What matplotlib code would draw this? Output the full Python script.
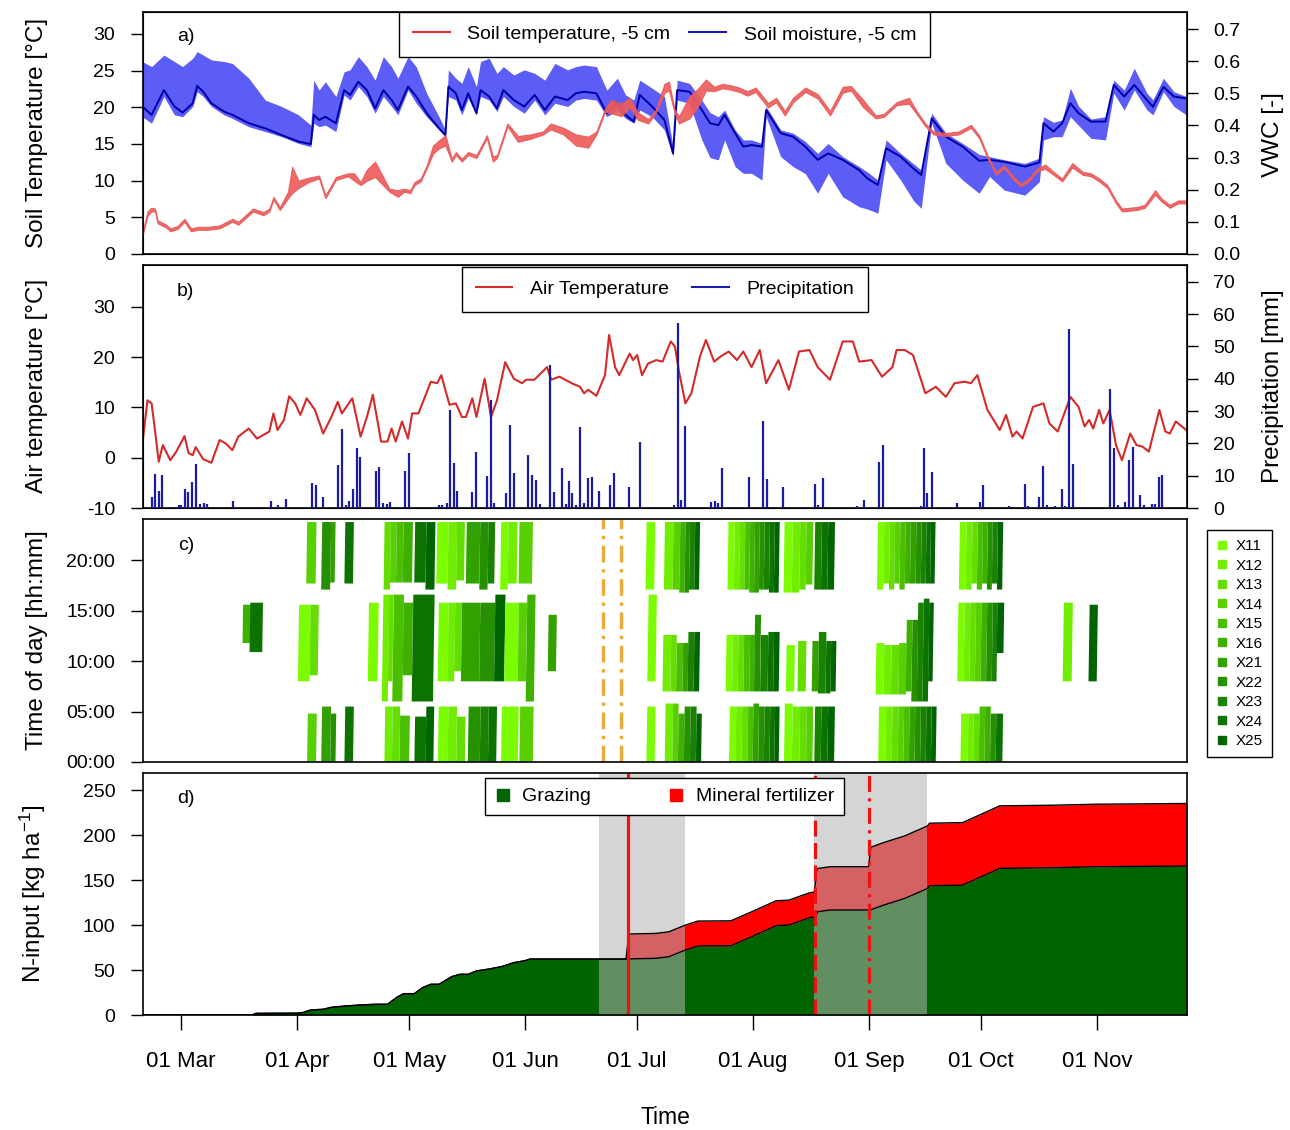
import numpy as np
import matplotlib
matplotlib.use("Agg")
import matplotlib.pyplot as plt
from matplotlib.colors import LinearSegmentedColormap
from matplotlib.lines import Line2D
from matplotlib.patches import Polygon

plt.rcParams['font.family'] = ['Liberation Sans', 'DejaVu Sans']
plt.rcParams['mathtext.fontset'] = 'custom'
plt.rcParams['mathtext.rm'] = 'Liberation Sans'
plt.rcParams['mathtext.it'] = 'Liberation Sans:italic'
plt.rcParams['axes.unicode_minus'] = False

# all x values are days counted from 01 March
month_days = [0, 31, 61, 92, 122, 153, 184, 214, 245]
month_labels = ['01 Mar', '01 Apr', '01 May', '01 Jun', '01 Jul',
                '01 Aug', '01 Sep', '01 Oct', '01 Nov']

# a) soil temperature (range over sensors) and soil moisture, -5 cm
soil_t_day = [-10.4, -9.0, -8.0, -7.0, -6.3, -4.0, -2.9, -1.0, 0.9, 2.6,
              4.5, 7.0, 10.3, 13.7, 15.3, 19.2, 22.0, 23.6, 24.7, 26.4,
              28.6, 29.7, 31.4, 34.1, 36.9, 38.6, 41.4, 44.7, 46.3, 48.0,
              49.7, 51.9, 55.7, 58.0, 59.6, 61.3, 62.4, 64.1, 65.7, 67.4,
              69.0, 70.7, 72.4, 73.5, 75.1, 76.8, 79.0, 81.8, 83.4, 84.5,
              87.3, 90.1, 93.4, 96.8, 98.9, 102.3, 105.6, 108.9, 111.1, 113.4,
              115.0, 117.8, 120.0, 122.2, 125.0, 127.0, 129.3, 130.5, 132.0, 133.2,
              136.0, 138.2, 140.4, 142.6, 144.8, 147.1, 149.3, 151.5, 153.7, 155.9,
              157.0, 159.2, 161.5, 163.7, 167.0, 170.3, 173.6, 177.0, 179.2, 182.5,
              185.8, 188.0, 191.4, 194.7, 196.9, 199.1, 201.3, 204.6, 208.0, 211.3,
              213.5, 215.7, 218.0, 220.2, 222.4, 224.6, 226.8, 229.0, 231.2, 233.4,
              235.7, 238.4, 241.2, 243.4, 245.6, 247.8, 250.1, 251.7, 255.6, 257.8,
              260.6, 262.2, 264.5, 266.7, 268.9]
soil_t_lo = [2.4, 5.2, 5.8, 5.8, 4.2, 3.6, 3.1, 3.4, 4.4, 3.1,
             3.3, 3.3, 3.5, 4.4, 4.0, 5.8, 5.3, 5.8, 7.4, 6.0,
             7.6, 8.3, 9.0, 9.8, 10.3, 7.6, 10.1, 10.6, 10.0, 9.4,
             10.0, 10.5, 8.5, 7.8, 8.5, 8.3, 9.4, 9.9, 11.7, 13.7,
             14.4, 14.8, 12.6, 13.5, 12.6, 13.5, 13.1, 15.8, 12.6, 13.1,
             17.4, 15.3, 15.7, 16.3, 17.0, 16.3, 14.8, 14.5, 16.3, 19.4,
             19.2, 18.8, 20.0, 18.3, 17.8, 19.3, 22.0, 22.3, 19.3, 17.8,
             18.5, 20.0, 22.3, 22.2, 22.6, 22.4, 22.1, 21.6, 22.1, 20.7,
             20.0, 20.7, 18.9, 20.7, 22.1, 21.2, 18.9, 22.0, 22.3, 20.0,
             18.5, 18.7, 20.3, 20.5, 19.0, 17.4, 16.3, 16.1, 16.3, 17.2,
             15.8, 13.1, 10.8, 11.7, 10.3, 9.2, 9.9, 11.3, 11.6, 10.8,
             9.9, 11.8, 10.8, 10.6, 9.9, 9.0, 6.9, 5.8, 6.0, 6.3,
             8.1, 7.2, 6.3, 6.9, 6.9]
soil_t_hi = [2.8, 5.8, 6.3, 6.2, 4.6, 4.0, 3.5, 3.8, 4.8, 3.5,
             3.7, 3.7, 3.9, 4.8, 4.4, 6.2, 5.7, 6.2, 7.8, 6.4,
             8.5, 11.9, 10.0, 10.4, 10.7, 8.0, 10.5, 11.0, 11.0, 9.8,
             11.5, 12.6, 8.9, 8.7, 8.9, 8.7, 9.8, 10.3, 12.1, 14.8,
             15.5, 16.2, 13.0, 13.9, 13.0, 13.9, 13.5, 16.2, 13.3, 13.5,
             17.8, 16.1, 16.3, 16.7, 17.8, 17.2, 16.3, 16.0, 16.7, 19.8,
             21.0, 20.5, 21.3, 19.3, 18.4, 19.7, 23.2, 23.5, 19.7, 18.8,
             21.5, 22.5, 23.8, 22.8, 23.2, 23.0, 22.7, 22.2, 22.7, 21.3,
             20.6, 21.3, 19.5, 21.3, 22.7, 21.8, 19.5, 22.8, 22.9, 21.0,
             18.9, 19.1, 20.7, 21.3, 19.4, 17.8, 16.7, 16.5, 16.7, 17.6,
             16.2, 13.5, 11.2, 12.1, 10.7, 9.6, 10.3, 11.7, 12.2, 11.2,
             10.3, 12.4, 11.2, 11.0, 10.3, 9.4, 7.3, 6.2, 6.4, 6.7,
             8.7, 7.6, 6.7, 7.3, 7.3]

vwc_day = [-10.4, -7.9, -4.6, -1.8, 0.4, 3.1, 4.3, 5.9, 8.1, 11.5,
           13.7, 18.1, 22.5, 26.9, 31.4, 34.7, 35.5, 36.9, 38.6, 41.4,
           43.6, 45.2, 47.4, 49.7, 51.9, 54.1, 56.3, 58.0, 60.7, 62.9,
           65.7, 69.0, 70.7, 71.5, 73.5, 75.1, 76.8, 79.0, 80.1, 82.4,
           84.5, 86.2, 89.0, 91.8, 94.6, 97.3, 100.0, 103.4, 105.6, 107.8,
           111.1, 113.9, 116.7, 118.9, 121.1, 122.7, 126.0, 129.3, 131.6, 132.7,
           136.0, 139.3, 141.5, 143.7, 145.4, 148.2, 150.4, 152.6, 155.4, 156.5,
           160.4, 163.7, 167.0, 170.3, 173.1, 177.0, 181.4, 183.6, 186.4, 188.6,
           192.5, 196.0, 198.0, 200.8, 204.6, 209.1, 213.5, 216.3, 220.2, 225.7,
           229.6, 230.7, 233.4, 235.7, 237.9, 240.1, 243.4, 247.3, 249.5, 252.3,
           255.0, 258.4, 260.0, 262.8, 265.6, 268.9]
vwc_lo = [0.427, 0.407, 0.490, 0.433, 0.427, 0.459, 0.505, 0.490, 0.459, 0.433,
          0.422, 0.396, 0.381, 0.365, 0.344, 0.334, 0.407, 0.396, 0.401, 0.381,
          0.495, 0.479, 0.521, 0.490, 0.438, 0.490, 0.459, 0.433, 0.510, 0.469,
          0.427, 0.386, 0.365, 0.490, 0.479, 0.433, 0.484, 0.433, 0.490, 0.479,
          0.443, 0.490, 0.459, 0.438, 0.479, 0.433, 0.469, 0.459, 0.479, 0.484,
          0.479, 0.427, 0.448, 0.422, 0.407, 0.448, 0.427, 0.386, 0.303, 0.479,
          0.469, 0.355, 0.300, 0.293, 0.355, 0.272, 0.251, 0.251, 0.230, 0.427,
          0.303, 0.272, 0.250, 0.189, 0.251, 0.178, 0.147, 0.140, 0.127, 0.293,
          0.230, 0.165, 0.142, 0.407, 0.282, 0.230, 0.189, 0.241, 0.199, 0.183,
          0.225, 0.355, 0.365, 0.365, 0.427, 0.400, 0.360, 0.355, 0.500, 0.448,
          0.510, 0.448, 0.433, 0.505, 0.459, 0.433]
vwc_mid = [0.459, 0.433, 0.510, 0.459, 0.440, 0.469, 0.523, 0.505, 0.469, 0.443,
           0.433, 0.407, 0.391, 0.370, 0.350, 0.342, 0.433, 0.417, 0.427, 0.407,
           0.510, 0.495, 0.536, 0.510, 0.453, 0.510, 0.479, 0.448, 0.521, 0.490,
           0.438, 0.391, 0.370, 0.521, 0.500, 0.448, 0.500, 0.438, 0.510, 0.490,
           0.453, 0.510, 0.479, 0.459, 0.495, 0.448, 0.490, 0.479, 0.500, 0.505,
           0.500, 0.438, 0.469, 0.433, 0.412, 0.495, 0.459, 0.417, 0.313, 0.510,
           0.505, 0.448, 0.407, 0.401, 0.433, 0.376, 0.334, 0.339, 0.334, 0.448,
           0.376, 0.365, 0.334, 0.293, 0.313, 0.293, 0.261, 0.235, 0.215, 0.329,
           0.303, 0.265, 0.246, 0.422, 0.365, 0.334, 0.290, 0.293, 0.287, 0.272,
           0.285, 0.407, 0.381, 0.407, 0.469, 0.438, 0.412, 0.412, 0.526, 0.490,
           0.526, 0.479, 0.458, 0.520, 0.490, 0.484]
vwc_hi = [0.599, 0.583, 0.619, 0.599, 0.583, 0.609, 0.630, 0.619, 0.604, 0.599,
          0.593, 0.547, 0.479, 0.459, 0.433, 0.401, 0.541, 0.510, 0.536, 0.490,
          0.567, 0.573, 0.614, 0.583, 0.541, 0.614, 0.583, 0.547, 0.614, 0.583,
          0.500, 0.427, 0.386, 0.573, 0.547, 0.531, 0.583, 0.521, 0.599, 0.609,
          0.562, 0.583, 0.557, 0.573, 0.562, 0.541, 0.593, 0.573, 0.583, 0.588,
          0.583, 0.510, 0.547, 0.495, 0.479, 0.541, 0.516, 0.490, 0.334, 0.541,
          0.531, 0.479, 0.440, 0.427, 0.448, 0.386, 0.355, 0.355, 0.344, 0.459,
          0.386, 0.376, 0.350, 0.313, 0.344, 0.303, 0.272, 0.255, 0.230, 0.355,
          0.313, 0.280, 0.261, 0.438, 0.376, 0.344, 0.310, 0.303, 0.293, 0.282,
          0.298, 0.427, 0.410, 0.417, 0.516, 0.460, 0.420, 0.427, 0.541, 0.510,
          0.578, 0.500, 0.480, 0.547, 0.505, 0.490]

# b) air temperature and daily precipitation
air_day = [-10.4, -9.0, -7.9, -7.0, -6.0, -4.9, -2.9, -1.3, 0.9, 2.0,
           3.1, 3.9, 5.9, 8.1, 10.3, 12.0, 13.7, 15.3, 18.1, 20.3,
           23.6, 24.7, 25.8, 27.5, 28.9, 30.5, 31.9, 33.6, 35.8, 38.0,
           40.2, 41.9, 43.0, 45.8, 48.0, 49.7, 51.3, 53.5, 55.2, 56.3,
           57.4, 59.1, 60.7, 61.8, 63.5, 66.8, 68.5, 69.6, 71.8, 73.5,
           75.1, 76.2, 77.9, 79.0, 81.2, 82.9, 84.5, 86.7, 89.0, 91.2,
           92.3, 94.5, 97.9, 99.0, 101.2, 104.5, 106.7, 107.8, 108.9, 111.1,
           113.4, 114.5, 116.1, 117.2, 120.0, 120.9, 122.0, 123.3, 124.9, 127.1,
           128.8, 131.0, 132.1, 133.2, 134.9, 136.5, 138.8, 140.4, 142.6, 144.3,
           146.5, 148.7, 150.4, 152.6, 154.8, 156.5, 159.8, 162.6, 165.3, 168.1,
           170.3, 173.6, 177.0, 179.7, 181.4, 184.7, 187.5, 190.3, 191.4, 193.6,
           195.8, 199.1, 201.9, 204.6, 206.9, 209.6, 211.3, 213.0, 215.7, 219.0,
           220.7, 222.4, 223.5, 225.1, 227.9, 230.7, 232.3, 234.5, 237.9, 240.1,
           241.7, 242.9, 244.0, 245.6, 246.7, 248.4, 250.1, 251.7, 253.9, 255.6,
           257.2, 258.9, 261.7, 263.3, 264.5, 266.1, 268.9]
air_t = [2.5, 11.4, 10.8, 5.5, -0.8, 2.5, -0.5, 1.2, 4.3, 0.9,
         0.5, 2.1, -0.3, -1.0, 3.5, 2.8, 1.5, 4.2, 5.8, 3.8,
         5.2, 8.8, 5.5, 7.5, 12.2, 10.8, 8.5, 11.8, 9.5, 4.8,
         8.1, 11.1, 8.8, 11.8, 4.2, 8.1, 12.5, 3.2, 3.2, 5.8,
         3.2, 7.2, 3.8, 8.8, 8.8, 15.1, 14.8, 16.4, 10.5, 10.8,
         8.1, 8.1, 11.8, 8.1, 15.7, 8.1, 11.4, 19.0, 15.7, 14.8,
         15.5, 15.5, 18.0, 15.5, 16.1, 14.8, 14.1, 12.8, 13.5, 12.3,
         16.4, 24.4, 18.0, 16.4, 20.7, 19.4, 20.4, 16.4, 18.7, 19.4,
         19.1, 23.1, 22.1, 17.1, 10.8, 12.8, 20.1, 23.4, 19.1, 20.1,
         21.1, 19.4, 21.1, 18.0, 21.4, 14.8, 19.4, 13.5, 21.1, 21.4,
         18.0, 15.5, 23.1, 23.1, 19.1, 19.4, 16.1, 18.0, 21.4, 21.4,
         20.4, 12.8, 14.1, 12.1, 14.8, 15.1, 14.8, 16.4, 9.5, 5.5,
         8.5, 4.2, 5.2, 3.8, 10.1, 10.8, 6.8, 5.2, 12.1, 10.1,
         6.2, 7.5, 5.8, 9.5, 6.8, 9.5, 2.5, -0.5, 4.8, 2.5,
         2.2, 1.2, 9.5, 5.2, 4.8, 7.2, 5.5]

precip_day = [-7.9, -7.0, -6.0, -5.0, -0.7, 0.0, 1.0, 1.9, 3.0, 3.9,
              5.0, 6.1, 7.0, 14.0, 24.0, 26.0, 28.1, 35.0, 36.0, 37.9,
              42.0, 43.0, 44.0, 44.9, 45.9, 47.0, 47.9, 52.2, 52.9, 54.1,
              55.0, 56.0, 60.0, 61.0, 69.0, 69.9, 71.0, 71.9, 72.9, 73.9,
              77.9, 78.9, 81.8, 82.8, 83.8, 86.8, 87.9, 89.0, 92.9, 94.0,
              95.0, 95.9, 98.7, 99.8, 101.9, 102.9, 103.8, 104.7, 105.7, 106.8,
              107.8, 108.8, 109.8, 111.7, 114.8, 115.8, 119.7, 122.7,
              131.9, 132.8, 133.8, 134.7, 141.7, 142.7, 143.7, 144.8, 151.8, 155.7,
              156.7, 160.9, 169.7, 170.5, 171.8, 180.8, 182.6, 186.7, 187.7, 198.0,
              198.7, 199.6, 200.8, 207.7, 213.7, 214.6, 221.6, 225.7, 226.6, 229.6,
              230.6, 231.7, 233.8, 235.7, 236.5, 237.5, 238.5, 248.6, 249.6, 250.6,
              252.6, 253.6, 254.6, 256.6, 257.6, 259.7, 260.6, 261.6, 262.5]
precip_mm = [3.3, 10.4, 5.3, 10.2, 0.9, 0.9, 6.0, 5.0, 8.2, 13.6,
             1.1, 1.4, 1.1, 2.3, 2.2, 0.9, 2.8, 7.6, 7.1, 3.3,
             13.3, 24.4, 0.9, 2.3, 5.8, 18.5, 15.9, 11.6, 12.6, 1.7,
             1.1, 2.0, 11.5, 16.9, 0.9, 0.9, 1.7, 30.3, 13.8, 5.3,
             5.0, 17.4, 9.9, 33.4, 1.7, 4.5, 25.7, 10.7, 16.4, 10.3,
             8.7, 1.2, 44.3, 5.1, 12.5, 1.1, 8.4, 4.5, 0.9, 25.0,
             1.7, 9.2, 9.7, 5.3, 7.2, 10.7, 6.6, 20.5,
             0.9, 57.2, 2.5, 25.5, 1.8, 2.1, 1.4, 12.3, 9.7, 26.9,
             8.9, 6.6, 7.3, 0.9, 9.2, 0.6, 2.5, 14.3, 19.5, 0.6,
             18.5, 4.7, 11.0, 1.4, 2.0, 7.1, 0.6, 7.3, 0.6, 3.5,
             13.0, 0.9, 0.6, 5.8, 0.6, 55.4, 13.6, 36.7, 18.5, 0.9,
             2.0, 14.9, 18.8, 4.1, 0.9, 1.2, 1.2, 9.7, 10.2]

# c) animal presence per paddock: (paddock, first day, last day, from hour, to hour)
paddocks = ['X11', 'X12', 'X13', 'X14', 'X15', 'X16',
            'X21', 'X22', 'X23', 'X24', 'X25']
evening_blocks = [
    (3, 33.6, 36.1, 17.7, 23.8), (7, 37.6, 40.0, 17.1, 23.8), (6, 40.0, 41.2, 17.8, 23.8),
    (9, 43.8, 46.1, 17.7, 23.8), (2, 54.3, 56.0, 17.1, 23.8), (3, 56.0, 57.6, 17.8, 23.8),
    (4, 57.6, 59.4, 17.8, 23.8), (5, 59.4, 61.9, 17.8, 23.8), (9, 62.5, 65.5, 17.8, 23.8),
    (10, 65.5, 67.9, 17.1, 23.8), (0, 68.4, 71.4, 17.7, 23.8), (1, 71.4, 73.7, 17.1, 23.8),
    (2, 73.7, 75.8, 18.0, 23.8), (6, 76.3, 79.9, 17.7, 23.8), (7, 79.9, 82.1, 17.1, 23.8),
    (8, 82.1, 83.9, 17.7, 23.8), (0, 85.5, 87.5, 17.1, 23.8), (1, 87.5, 89.9, 17.7, 23.8),
    (3, 90.4, 94.0, 17.7, 23.8), (0, 124.4, 126.7, 17.1, 23.8),
    (1, 129.3, 131.6, 17.1, 23.8), (3, 131.6, 133.4, 17.1, 23.8), (5, 133.4, 134.8, 16.8, 23.8),
    (7, 134.8, 136.0, 16.8, 23.8), (8, 136.0, 137.4, 17.1, 23.8), (10, 137.4, 138.7, 17.1, 23.8),
    (0, 146.3, 148.0, 17.1, 23.8), (1, 148.0, 149.4, 17.1, 23.8), (2, 149.4, 150.8, 17.1, 23.8),
    (4, 150.8, 152.1, 17.1, 23.8), (5, 152.1, 153.4, 16.8, 23.8), (6, 153.4, 154.7, 16.8, 23.8),
    (7, 154.7, 156.0, 17.1, 23.8), (8, 156.0, 157.4, 17.1, 23.8), (9, 157.4, 158.7, 16.8, 23.8),
    (10, 158.7, 160.0, 16.8, 23.8), (0, 161.3, 163.5, 16.8, 23.8), (1, 163.5, 165.5, 16.8, 23.8),
    (2, 165.5, 167.2, 17.1, 23.8), (3, 167.2, 169.0, 17.6, 23.8), (8, 169.5, 171.3, 17.1, 23.8),
    (9, 171.3, 173.0, 17.1, 23.8), (10, 173.0, 174.8, 17.1, 23.8),
    (0, 186.3, 188.0, 17.1, 23.8), (1, 188.0, 189.5, 17.7, 23.8), (2, 189.5, 190.9, 17.1, 23.8),
    (3, 190.9, 192.3, 17.7, 23.8), (4, 192.3, 193.7, 17.1, 23.8), (5, 193.7, 195.1, 17.7, 23.8),
    (6, 195.1, 196.6, 17.7, 23.8), (7, 196.6, 198.0, 17.7, 23.8), (8, 198.0, 199.3, 17.7, 23.8),
    (9, 199.3, 200.5, 17.7, 23.8), (10, 200.5, 201.7, 17.7, 23.8),
    (0, 208.2, 210.0, 17.1, 23.8), (1, 210.0, 211.6, 17.1, 23.8), (2, 211.6, 213.0, 17.7, 23.8),
    (4, 213.0, 214.4, 17.1, 23.8), (5, 214.4, 215.7, 17.7, 23.8), (7, 215.7, 217.0, 17.1, 23.8),
    (8, 217.0, 218.4, 17.7, 23.8), (10, 218.4, 219.8, 17.1, 23.8),
]
daytime_blocks = [
    (5, 16.5, 19.2, 11.8, 15.6), (9, 18.4, 21.8, 10.9, 15.8), (0, 31.4, 34.5, 8.0, 15.6),
    (2, 34.5, 36.7, 8.6, 15.6), (0, 50.1, 52.7, 8.0, 15.8), (1, 53.9, 55.5, 6.0, 16.6),
    (2, 55.5, 56.7, 8.0, 16.6), (4, 56.7, 59.4, 6.0, 16.6), (5, 59.4, 61.9, 8.6, 15.8),
    (9, 61.9, 67.6, 6.0, 16.6), (0, 68.8, 71.4, 8.0, 15.8), (1, 71.4, 73.2, 8.0, 15.8),
    (2, 73.2, 75.0, 9.0, 15.8), (6, 75.0, 79.9, 8.0, 15.8), (7, 79.9, 83.9, 8.0, 15.8),
    (10, 83.9, 86.6, 8.0, 16.6), (0, 86.6, 90.2, 8.0, 15.8), (3, 90.2, 92.4, 8.0, 15.8),
    (5, 92.4, 94.6, 6.0, 16.6), (6, 98.2, 100.4, 9.0, 14.6), (0, 124.9, 127.1, 8.0, 16.6),
    (1, 128.9, 131.0, 7.0, 12.6), (2, 131.0, 132.5, 7.0, 12.6), (4, 132.5, 134.2, 7.0, 11.8),
    (6, 134.2, 135.6, 7.0, 11.8), (8, 135.6, 137.2, 7.0, 12.9), (10, 137.2, 138.7, 7.0, 12.9),
    (0, 145.8, 147.5, 7.0, 12.6), (1, 147.5, 149.0, 7.0, 12.6), (2, 149.0, 150.5, 7.0, 12.6),
    (4, 150.5, 152.1, 7.0, 12.6), (5, 152.1, 153.4, 7.0, 12.6), (7, 153.4, 155.0, 7.0, 14.6),
    (8, 155.0, 157.0, 7.0, 12.6), (9, 157.0, 158.5, 7.0, 12.9), (10, 158.5, 160.0, 7.0, 12.9),
    (0, 161.9, 164.1, 7.0, 11.6), (2, 165.0, 167.2, 7.0, 12.0), (6, 168.8, 170.5, 7.0, 12.0),
    (8, 170.5, 172.5, 6.8, 12.9), (9, 172.5, 173.8, 6.8, 12.0), (10, 173.8, 175.2, 7.0, 12.0),
    (0, 185.9, 188.0, 6.7, 11.8), (1, 188.0, 190.0, 6.7, 11.6), (2, 190.0, 192.0, 6.7, 11.6),
    (3, 192.0, 194.0, 6.7, 11.8), (5, 194.0, 195.5, 7.0, 14.1), (7, 195.5, 197.0, 6.0, 14.1),
    (8, 197.0, 198.5, 6.0, 15.8), (9, 198.5, 200.0, 6.0, 16.2), (10, 200.0, 201.2, 8.0, 15.8),
    (0, 207.8, 209.5, 8.0, 15.8), (1, 209.5, 211.0, 8.0, 15.8), (2, 211.0, 212.5, 8.0, 15.8),
    (3, 212.5, 214.0, 8.0, 15.8), (5, 214.0, 215.5, 8.0, 15.8), (7, 215.5, 217.0, 8.0, 15.8),
    (8, 217.0, 218.3, 8.0, 15.8), (10, 218.3, 220.1, 10.8, 15.8),
    (1, 236.0, 238.4, 8.0, 15.8), (10, 242.9, 245.1, 8.0, 15.6),
]
night_blocks = [
    (3, 33.8, 36.2, 0.0, 4.8), (6, 37.6, 40.0, 0.0, 5.5), (7, 40.0, 41.4, 0.0, 4.8),
    (9, 43.8, 46.1, 0.0, 5.5), (1, 54.5, 56.5, 0.0, 5.5), (2, 56.5, 58.5, 0.0, 5.5),
    (4, 58.5, 61.1, 0.0, 4.6), (9, 62.5, 65.5, 0.0, 4.5), (10, 65.5, 67.6, 0.0, 5.5),
    (0, 68.8, 71.4, 0.0, 5.5), (1, 71.4, 73.7, 0.0, 5.5), (2, 73.7, 76.0, 0.0, 4.5),
    (7, 76.8, 80.0, 0.0, 5.5), (8, 80.0, 82.2, 0.0, 5.5), (9, 82.2, 84.4, 0.0, 5.5),
    (0, 85.7, 90.2, 0.0, 5.5), (3, 90.6, 94.2, 0.0, 5.5), (0, 124.6, 126.8, 0.0, 5.5),
    (1, 129.5, 131.5, 0.0, 5.8), (3, 131.5, 133.0, 0.0, 5.8), (5, 133.0, 134.6, 0.0, 4.8),
    (7, 134.6, 136.2, 0.0, 5.5), (8, 136.2, 137.8, 0.0, 5.5), (10, 137.8, 139.2, 0.0, 4.8),
    (0, 146.7, 148.4, 0.0, 5.5), (1, 148.4, 150.0, 0.0, 5.5), (2, 150.0, 151.6, 0.0, 5.5),
    (4, 151.6, 153.0, 0.0, 5.5), (6, 153.0, 154.5, 0.0, 5.8), (7, 154.5, 156.0, 0.0, 5.5),
    (8, 156.0, 157.5, 0.0, 5.5), (9, 157.5, 158.8, 0.0, 5.5), (10, 158.8, 160.0, 0.0, 5.5),
    (0, 161.4, 163.5, 0.0, 5.8), (1, 163.5, 165.5, 0.0, 5.5), (2, 165.5, 167.3, 0.0, 5.5),
    (3, 167.3, 169.0, 0.0, 5.5), (8, 169.5, 171.2, 0.0, 5.5), (9, 171.2, 173.0, 0.0, 5.5),
    (10, 173.0, 174.8, 0.0, 5.5),
    (0, 186.6, 188.5, 0.0, 5.5), (1, 188.5, 190.2, 0.0, 5.5), (2, 190.2, 191.8, 0.0, 5.5),
    (3, 191.8, 193.3, 0.0, 5.5), (4, 193.3, 194.8, 0.0, 5.5), (6, 194.8, 196.3, 0.0, 5.5),
    (7, 196.3, 197.8, 0.0, 5.5), (8, 197.8, 199.3, 0.0, 5.5), (9, 199.3, 200.7, 0.0, 5.5),
    (10, 200.7, 202.0, 0.0, 5.5),
    (0, 208.6, 210.5, 0.0, 4.8), (1, 210.5, 212.0, 0.0, 4.8), (2, 212.0, 213.5, 0.0, 4.8),
    (4, 213.5, 215.0, 0.0, 5.5), (5, 215.0, 216.5, 0.0, 5.5), (7, 216.5, 218.0, 0.0, 4.8),
    (9, 218.0, 219.8, 0.0, 4.8),
]
no_grazing_marks = [112.8, 117.8]

# d) cumulative N input
n_days = [-10.2, 19.0, 20.0, 31.0, 32.5, 34.7, 38.0, 40.2, 44.0, 48.0,
          52.0, 55.2, 58.0, 59.6, 62.4, 64.6, 66.8, 69.0, 72.4, 74.6,
          76.8, 79.0, 82.4, 85.7, 89.0, 92.0, 93.4, 119.0, 119.8, 127.0,
          130.5, 134.9, 138.2, 147.1, 152.6, 159.2, 162.6, 168.1, 169.4, 170.0,
          170.3, 173.6, 183.6, 183.9, 184.5, 188.0, 193.6, 199.7, 200.2, 209.1,
          219.0, 233.4, 244.5, 269.1]
graze_n = [0.0, 0.0, 1.8, 2.0, 2.6, 5.6, 6.3, 8.5, 10.0, 11.1,
           11.9, 11.9, 20.4, 23.7, 23.7, 30.4, 34.1, 34.1, 42.6, 45.2,
           45.2, 48.9, 51.1, 53.7, 58.1, 60.4, 62.2, 62.2, 62.3, 63.0,
           64.8, 72.2, 76.7, 77.0, 87.0, 99.3, 100.0, 108.1, 109.0, 112.0,
           114.8, 116.7, 116.7, 116.8, 117.0, 122.2, 129.6, 140.7, 143.7, 144.4,
           163.0, 163.7, 164.8, 165.6]
fert_n = [0, 0, 0, 0, 0, 0, 0, 0, 0, 0,
          0, 0, 0, 0, 0, 0, 0, 0, 0, 0,
          0, 0, 0, 0, 0, 0, 0, 0, 27.7, 27.7,
          27.7, 27.7, 27.7, 27.7, 27.7, 27.7, 27.7, 27.7, 27.7, 48.1,
          48.1, 48.1, 48.1, 48.1, 69.5, 69.5, 69.5, 69.5, 69.5, 69.5,
          69.5, 69.5, 69.5, 69.5]
shade_start = [111.7, 169.4]
shade_end = [134.7, 199.6]
fert_event_day = [119.5, 169.7, 184.1]

XLIM = (-10.2, 269.1)
L, W = 143 / 1290, 1044 / 1290
LAB = 14
dashdot = (0, (5, 2, 1, 2))

fig = plt.figure(figsize=(12.9, 11.3), dpi=100)


def style_left(ax, ticks, labels=None):
    ax.set_xlim(*XLIM)
    ax.set_yticks(ticks)
    if labels is not None:
        ax.set_yticklabels(labels)
    ax.tick_params(axis='y', direction='out', length=9, width=1, pad=11, labelsize=LAB)
    ax.tick_params(axis='x', bottom=False, labelbottom=False)
    for s in ax.spines.values():
        s.set_linewidth(1.2)


def style_right(ax, ticks, labels=None):
    ax.set_yticks(ticks)
    if labels is not None:
        ax.set_yticklabels(labels)
    ax.tick_params(axis='y', direction='out', length=8, width=1, pad=11, labelsize=LAB)


def frame(leg):
    leg.get_frame().set_edgecolor('black')
    leg.get_frame().set_linewidth(1.0)
    leg.set_zorder(20)


# ---- a) soil temperature / soil moisture
ax_a = fig.add_axes([L, 1 - 254 / 1130, W, 242 / 1130])
ax_a2 = ax_a.twinx()
ax_a2.fill_between(vwc_day, vwc_lo, vwc_hi, color='#5c5cf6', lw=0)
ax_a2.plot(vwc_day, vwc_mid, color='#0000a8', lw=1.4)
ax_a2.set_ylim(0, 0.753)
ax_a.fill_between(soil_t_day, soil_t_lo, soil_t_hi, facecolor='#ee5c5c',
                  edgecolor='#e85a5a', lw=0.8, alpha=0.92)
ax_a.set_ylim(0, 33)
ax_a.set_zorder(ax_a2.get_zorder() + 1)
ax_a.patch.set_visible(False)
style_left(ax_a, [0, 5, 10, 15, 20, 25, 30])
style_right(ax_a2, [0.0, 0.1, 0.2, 0.3, 0.4, 0.5, 0.6, 0.7],
            ['0.0', '0.1', '0.2', '0.3', '0.4', '0.5', '0.6', '0.7'])
ax_a.text(0.041, 0.897, 'a)', transform=ax_a.transAxes, fontsize=14,
          ha='center', va='center')
leg = ax_a.legend([Line2D([], [], color='#dd3333', lw=1.5),
                   Line2D([], [], color='#1a1ab0', lw=1.5)],
                  ['Soil temperature, -5 cm', 'Soil moisture, -5 cm'],
                  loc='upper center', bbox_to_anchor=(0.4995, 1.0), ncol=2,
                  fontsize=14, frameon=True, fancybox=False, framealpha=1,
                  borderaxespad=0, borderpad=0.7, handlelength=1.9,
                  handletextpad=0.9, columnspacing=1.0)
frame(leg)

# ---- b) air temperature / precipitation
ax_b = fig.add_axes([L, 1 - 508 / 1130, W, 243 / 1130])
ax_b2 = ax_b.twinx()
ax_b.plot(air_day, air_t, color='#d42a2a', lw=1.5)
ax_b.set_ylim(-10, 38.3)
ax_b2.vlines(precip_day, 0, precip_mm, colors='#1c1ca0', lw=1.6)
ax_b2.set_ylim(0, 75.2)
style_left(ax_b, [-10, 0, 10, 20, 30])
style_right(ax_b2, [0, 10, 20, 30, 40, 50, 60, 70])
ax_b.text(0.041, 0.893, 'b)', transform=ax_b.transAxes, fontsize=14,
          ha='center', va='center')
leg = ax_b2.legend([Line2D([], [], color='#d42a2a', lw=1.5),
                    Line2D([], [], color='#1c1cb0', lw=1.5)],
                   ['Air Temperature', 'Precipitation'],
                   loc='upper center', bbox_to_anchor=(0.5, 0.992), ncol=2,
                   fontsize=14, frameon=True, fancybox=False, framealpha=1,
                   borderaxespad=0, borderpad=0.7, handlelength=1.9,
                   handletextpad=0.9, columnspacing=1.2)
frame(leg)

# ---- c) time of day spent on each paddock
ax_c = fig.add_axes([L, 1 - 762 / 1130, W, 243 / 1130])
ramp = LinearSegmentedColormap.from_list('grass', ['#7cfc00', '#006400'])
paddock_colors = [ramp(i / (len(paddocks) - 1)) for i in range(len(paddocks))]
for blocks in (evening_blocks, daytime_blocks, night_blocks):
    for p, d0, d1, h0, h1 in blocks:
        hm = (h0 + h1) / 2
        s0, s1 = (h0 - hm) / 24, (h1 - hm) / 24
        poly = Polygon([(d0 + s0, h0), (d1 + s0, h0), (d1 + s1, h1), (d0 + s1, h1)],
                       closed=True, facecolor=paddock_colors[p], edgecolor='none')
        ax_c.add_patch(poly)
for d in no_grazing_marks:
    ax_c.axvline(d, color='#eeaa33', lw=2.4, linestyle=dashdot)
ax_c.set_ylim(0, 24.1)
style_left(ax_c, [0, 5, 10, 15, 20], ['00:00', '05:00', '10:00', '15:00', '20:00'])
ax_c.text(0.041, 0.893, 'c)', transform=ax_c.transAxes, fontsize=14,
          ha='center', va='center')
handles = [Line2D([], [], marker='s', ls='', color=c, markersize=6) for c in paddock_colors]
leg = ax_c.legend(handles, paddocks, loc='upper left',
                  bbox_to_anchor=(1207 / 1290, 1 - 530 / 1130),
                  bbox_transform=fig.transFigure, fontsize=11, frameon=True,
                  fancybox=False, framealpha=1, borderaxespad=0, borderpad=0.6,
                  handlelength=0.7, handletextpad=0.6, labelspacing=0.36)
frame(leg)

# ---- d) cumulative nitrogen input
ax_d = fig.add_axes([L, 1 - 1015 / 1130, W, 242 / 1130])
total_n = np.add(graze_n, fert_n)
ax_d.fill_between(n_days, 0, graze_n, color='#006400', lw=0)
ax_d.fill_between(n_days, graze_n, total_n, color='#ff0000', lw=0)
ax_d.plot(n_days, graze_n, color='black', lw=1.0)
ax_d.plot(n_days, total_n, color='black', lw=1.0)
for s, e in zip(shade_start, shade_end):
    ax_d.axvspan(s, e, color='#b4b4b4', alpha=0.55, lw=0)
for d, ls in zip(fert_event_day, ['-', (0, (5, 2)), dashdot]):
    ax_d.axvline(d, color='#ee1111', lw=2.3, linestyle=ls)
ax_d.set_ylim(0, 269)
style_left(ax_d, [0, 50, 100, 150, 200, 250])
ax_d.set_xticks(month_days)
ax_d.set_xticklabels(month_labels)
ax_d.tick_params(axis='x', bottom=True, labelbottom=True, direction='out',
                 length=11, width=1, pad=15, labelsize=16)
ax_d.text(0.041, 0.893, 'd)', transform=ax_d.transAxes, fontsize=14,
          ha='center', va='center')
leg = ax_d.legend([Line2D([], [], marker='s', ls='', color='#006400', markersize=8),
                   Line2D([], [], marker='s', ls='', color='#ff0000', markersize=8)],
                  ['Grazing', 'Mineral fertilizer'],
                  loc='upper center', bbox_to_anchor=(0.4995, 0.979), ncol=2,
                  fontsize=14, frameon=True, fancybox=False, framealpha=1,
                  borderaxespad=0, borderpad=0.5, handlelength=0.8,
                  handletextpad=0.6, columnspacing=4.0)
frame(leg)

# axis titles
ylab = 17.5
fig.text(37 / 1290, 1 - 133 / 1130, 'Soil Temperature [°C]', rotation=90,
         ha='center', va='center', fontsize=ylab)
fig.text(1273 / 1290, 1 - 135 / 1130, 'VWC [-]', rotation=90,
         ha='center', va='center', fontsize=ylab)
fig.text(37 / 1290, 1 - 386 / 1130, 'Air temperature [°C]', rotation=90,
         ha='center', va='center', fontsize=ylab)
fig.text(1273 / 1290, 1 - 386 / 1130, 'Precipitation [mm]', rotation=90,
         ha='center', va='center', fontsize=ylab)
fig.text(37 / 1290, 1 - 640 / 1130, 'Time of day [hh:mm]', rotation=90,
         ha='center', va='center', fontsize=ylab)
fig.text(33 / 1290, 1 - 894 / 1130, r'N-input [kg ha$^{-1}$]', rotation=90,
         ha='center', va='center', fontsize=ylab)
fig.text(665 / 1290, 1 - 1118 / 1130, 'Time', ha='center', va='center', fontsize=16.5)

fig.savefig('out.png', dpi=100)
